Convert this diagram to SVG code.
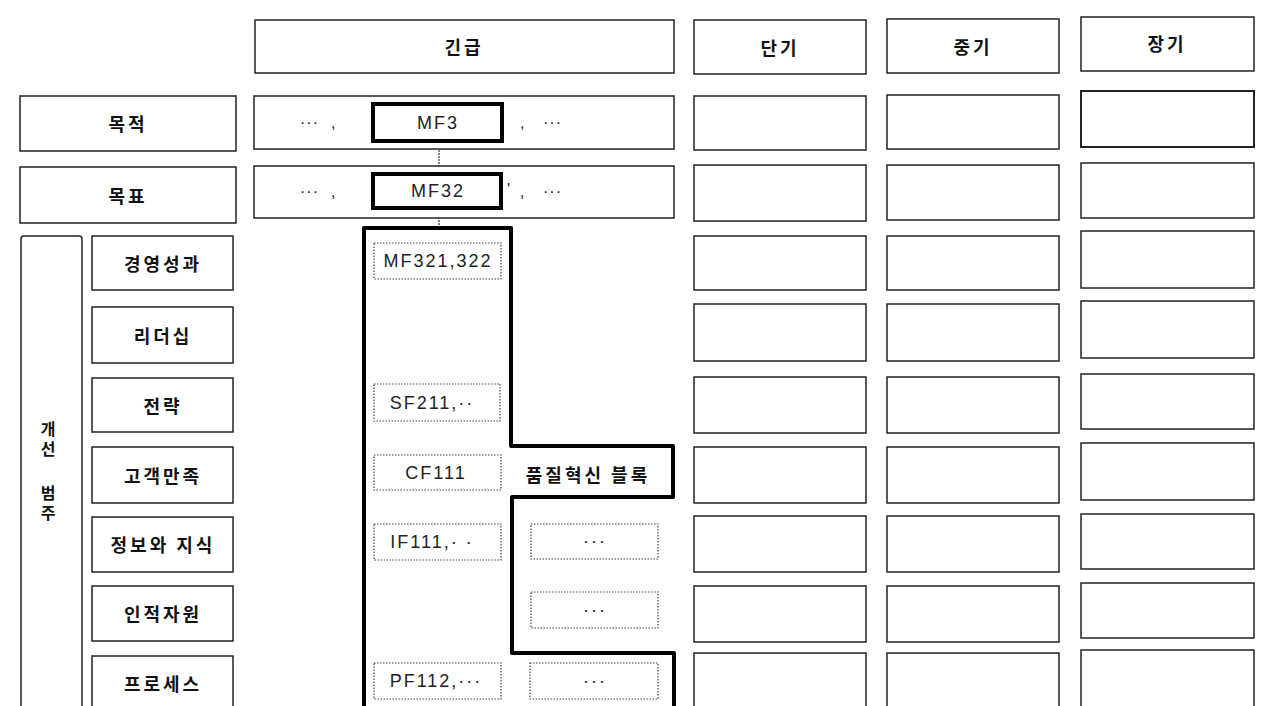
<svg xmlns="http://www.w3.org/2000/svg" width="1262" height="706" viewBox="0 0 1262 706">
<style>
.box{fill:#fff;stroke:#222;stroke-width:1.5}
.thick{fill:#fff;stroke:#000;stroke-width:4}
.dot{fill:#fff;stroke:#444;stroke-width:1.2;stroke-dasharray:1.5 1.5}
.block{fill:none;stroke:#000;stroke-width:4;stroke-linejoin:round}
.conn{stroke:#444;stroke-width:1.3;stroke-dasharray:2 1;fill:none}
.ko{font-family:"Noto Sans CJK KR","Noto Sans",sans-serif;font-size:18px;font-weight:bold;fill:#111;letter-spacing:3px;text-anchor:middle;dominant-baseline:central}
.vk{font-family:"Noto Sans CJK KR","Noto Sans",sans-serif;font-size:16px;font-weight:bold;fill:#111;writing-mode:vertical-rl;text-orientation:upright;letter-spacing:4px}
.la{font-family:"Liberation Sans",Arial,sans-serif;font-size:18px;fill:#222;letter-spacing:2px;text-anchor:middle;dominant-baseline:central}
.pn{font-family:"Liberation Sans",Arial,sans-serif;font-size:16px;fill:#222;letter-spacing:1px}
</style>
<rect width="1262" height="706" fill="#fff"/>

<g id="connectors">
<line class="conn" x1="439" y1="141" x2="439" y2="174"/>
<line class="conn" x1="439" y1="208" x2="439" y2="228"/>
</g>

<!-- left labels -->
<g id="purpose-label"><rect class="box" x="20" y="96" width="216" height="55"/><text class="ko" x="128" y="123">목적</text></g>
<g id="goal-label"><rect class="box" x="20" y="167" width="216" height="56"/><text class="ko" x="128" y="195">목표</text></g>
<g id="category-label"><rect class="box" x="21" y="236" width="61" height="490" rx="3"/>
<text class="vk" x="48" y="421">개선</text><text class="vk" x="48" y="485">범주</text></g>
<g id="cat-performance"><rect class="box" x="92" y="236" width="141" height="54"/><text class="ko" x="163" y="263">경영성과</text></g>
<g id="cat-leadership"><rect class="box" x="92" y="307" width="141" height="56"/><text class="ko" x="163" y="335">리더십</text></g>
<g id="cat-strategy"><rect class="box" x="92" y="378" width="141" height="54"/><text class="ko" x="163" y="405">전략</text></g>
<g id="cat-customer"><rect class="box" x="92" y="447" width="141" height="56"/><text class="ko" x="163" y="475">고객만족</text></g>
<g id="cat-info"><rect class="box" x="92" y="517" width="141" height="55"/><text class="ko" x="163" y="544">정보와 지식</text></g>
<g id="cat-hr"><rect class="box" x="92" y="586" width="141" height="55"/><text class="ko" x="163" y="613">인적자원</text></g>
<g id="cat-process"><rect class="box" x="92" y="656" width="141" height="70"/><text class="ko" x="163" y="683">프로세스</text></g>

<!-- urgent column -->
<g id="hdr-urgent"><rect class="box" x="255" y="20" width="419" height="53"/><text class="ko" x="464" y="46">긴급</text></g>
<g id="urgent-purpose"><rect class="box" x="254" y="96" width="420" height="53"/>
<text class="pn" x="300" y="128">···</text><text class="pn" x="331" y="128">,</text>
<text class="pn" x="520" y="128">,</text><text class="pn" x="543" y="128">···</text></g>
<g id="urgent-goal"><rect class="box" x="254" y="166" width="420" height="52"/>
<text class="pn" x="300" y="197">···</text><text class="pn" x="331" y="197">,</text>
<text class="pn" x="507" y="195">'</text>
<text class="pn" x="520" y="197">,</text><text class="pn" x="543" y="197">···</text></g>
<g id="mf3"><rect class="thick" x="373" y="104" width="129" height="37"/><text class="la" x="438" y="123">MF3</text></g>
<g id="mf32"><rect class="thick" x="373" y="174" width="128" height="34"/><text class="la" x="438" y="191">MF32</text></g>

<g id="quality-block">
<path class="block" d="M364,228 H511 V446 H673 V497 H512 V653 H674 V716 H364 Z"/>
<text class="ko" x="588" y="474">품질혁신 블록</text>
</g>
<g id="mf321"><rect class="dot" x="374" y="243" width="127" height="36"/><text class="la" x="438" y="261">MF321,322</text></g>
<g id="sf211"><rect class="dot" x="374" y="384" width="126" height="37"/><text class="la" x="432" y="403">SF211,··</text></g>
<g id="cf111"><rect class="dot" x="374" y="455" width="127" height="35"/><text class="la" x="436" y="473">CF111</text></g>
<g id="if111"><rect class="dot" x="374" y="524" width="127" height="36"/><text class="la" x="432" y="542">IF111,· ·</text></g>
<g id="pf112"><rect class="dot" x="374" y="663" width="127" height="36"/><text class="la" x="436" y="681">PF112,···</text></g>
<g id="etc1"><rect class="dot" x="531" y="524" width="127" height="35"/><text class="la" x="595" y="541">···</text></g>
<g id="etc2"><rect class="dot" x="531" y="592" width="127" height="36"/><text class="la" x="595" y="610">···</text></g>
<g id="etc3"><rect class="dot" x="530" y="663" width="128" height="36"/><text class="la" x="595" y="681">···</text></g>

<!-- short term -->
<g id="col-short">
<rect class="box" x="694" y="20" width="172" height="54"/><text class="ko" x="780" y="47">단기</text>
<rect class="box" x="694" y="96" width="172" height="54"/>
<rect class="box" x="694" y="165" width="172" height="56"/>
<rect class="box" x="694" y="236" width="172" height="54"/>
<rect class="box" x="694" y="304" width="172" height="57"/>
<rect class="box" x="694" y="377" width="172" height="56"/>
<rect class="box" x="694" y="447" width="172" height="56"/>
<rect class="box" x="694" y="516" width="172" height="56"/>
<rect class="box" x="694" y="586" width="172" height="56"/>
<rect class="box" x="694" y="653" width="172" height="70"/>
</g>
<!-- mid term -->
<g id="col-mid">
<rect class="box" x="887" y="19" width="172" height="54"/><text class="ko" x="973" y="46">중기</text>
<rect class="box" x="887" y="95" width="172" height="54"/>
<rect class="box" x="887" y="165" width="172" height="55"/>
<rect class="box" x="887" y="236" width="172" height="54"/>
<rect class="box" x="887" y="304" width="172" height="57"/>
<rect class="box" x="887" y="377" width="172" height="56"/>
<rect class="box" x="887" y="447" width="172" height="56"/>
<rect class="box" x="887" y="516" width="172" height="56"/>
<rect class="box" x="887" y="586" width="172" height="56"/>
<rect class="box" x="887" y="653" width="172" height="70"/>
</g>
<!-- long term -->
<g id="col-long">
<rect class="box" x="1081" y="17" width="173" height="54"/><text class="ko" x="1167" y="43">장기</text>
<rect class="box" x="1081" y="91" width="173" height="56" style="stroke-width:2"/>
<rect class="box" x="1081" y="163" width="173" height="55"/>
<rect class="box" x="1081" y="231" width="173" height="57"/>
<rect class="box" x="1081" y="301" width="173" height="57"/>
<rect class="box" x="1081" y="374" width="173" height="55"/>
<rect class="box" x="1081" y="443" width="173" height="57"/>
<rect class="box" x="1081" y="514" width="173" height="55"/>
<rect class="box" x="1081" y="583" width="173" height="55"/>
<rect class="box" x="1081" y="650" width="173" height="73"/>
</g>
</svg>
